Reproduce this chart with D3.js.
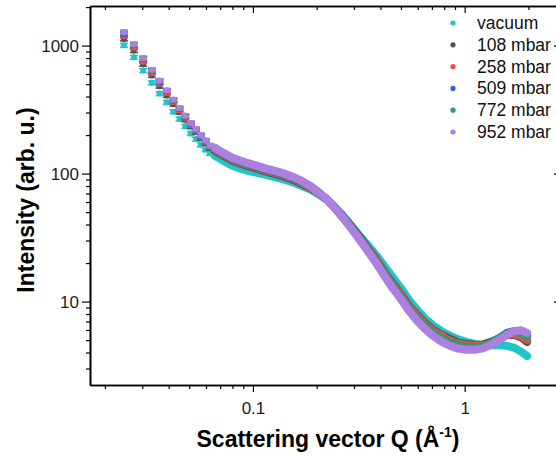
<!DOCTYPE html>
<html>
<head>
<meta charset="utf-8">
<script src="https://cdn.jsdelivr.net/npm/d3@7"></script>
<style>
  body { margin: 0; background: #fff; }
  svg { display: block; font-family: "Liberation Sans", Arial, sans-serif; }
  .axis path, .axis line { stroke: #000; }
  .axis text { fill: #222; }
</style>
</head>
<body>
<div id="chart"></div>
<script>
// sparse low-Q points (drawn as separate markers)
const qLow = [0.0246, 0.0274, 0.0303, 0.0333, 0.0362, 0.0392, 0.0421, 0.0450, 0.0479, 0.0509, 0.0538, 0.0567, 0.0597, 0.0626]
// dense points (overlapping markers -> band)
const qHigh = [0.066, 0.070, 0.075, 0.080, 0.087, 0.095, 0.105, 0.116, 0.128, 0.141,
  0.155, 0.170, 0.186, 0.203, 0.222, 0.243, 0.266, 0.291, 0.318, 0.348,
  0.381, 0.417, 0.456, 0.499, 0.546, 0.597, 0.653, 0.714, 0.781, 0.854,
  0.934, 1.02, 1.12, 1.22, 1.33, 1.45, 1.58, 1.72, 1.85, 1.97]

const vacuumLow = [1005, 810, 638, 512, 422, 361, 305, 267, 234, 206, 186, 168, 154, 144]
const vacuumHigh = [138.0, 130.3, 122.3, 115.3, 109.6, 104.9, 101.3, 97.2, 93.4, 89.6,
  85.4, 80.1, 75.3, 69.4, 62.9, 54.9, 47.1, 39.4, 32.9, 27.7,
  23.2, 19.0, 15.6, 12.8, 10.3, 8.61, 7.32, 6.46, 5.85, 5.40,
  5.07, 4.84, 4.67, 4.59, 4.55, 4.55, 4.51, 4.35, 4.05, 3.76]

const mbar108Low = [1128, 915, 715, 585, 482, 408, 348, 302, 264, 233, 211, 189, 173, 158]
const mbar108High = [150.7, 142.5, 133.8, 126.2, 119.9, 114.3, 108.8, 103.5, 98.9, 94.6,
  89.3, 83.1, 77.3, 70.7, 63.4, 54.4, 46.3, 38.7, 32.3, 26.3,
  21.6, 17.1, 14.0, 11.5, 9.26, 7.87, 6.76, 5.96, 5.49, 5.11,
  4.78, 4.67, 4.59, 4.63, 4.84, 5.16, 5.49, 5.49, 5.25, 4.84]

const mbar258Low = [1182, 965, 752, 612, 505, 428, 362, 313, 273, 240, 216, 194, 177, 162]
const mbar258High = [153.7, 145.1, 136.3, 128.4, 122.1, 116.3, 110.8, 105.4, 100.7, 96.3,
  90.9, 84.6, 78.0, 70.7, 63.4, 54.4, 45.5, 38.0, 31.7, 25.8,
  21.2, 16.8, 13.7, 11.3, 9.09, 7.73, 6.64, 5.85, 5.40, 4.93,
  4.70, 4.59, 4.51, 4.55, 4.76, 5.07, 5.49, 5.59, 5.35, 5.02]

const mbar509Low = [1234, 1005, 785, 635, 522, 440, 372, 320, 279, 245, 220, 197, 179, 164]
const mbar509High = [156.5, 147.8, 138.8, 130.8, 124.3, 118.4, 112.8, 107.3, 102.5, 98.0,
  92.6, 86.1, 80.1, 71.9, 63.4, 54.4, 45.5, 38.0, 31.2, 25.3,
  20.4, 16.5, 13.3, 10.9, 8.77, 7.46, 6.40, 5.64, 5.11, 4.76,
  4.53, 4.43, 4.35, 4.47, 4.76, 5.16, 5.69, 5.90, 5.74, 5.40]

const mbar772Low = [1256, 1018, 793, 642, 528, 444, 376, 323, 282, 247, 222, 199, 181, 165]
const mbar772High = [157.9, 149.1, 140.0, 131.9, 125.4, 119.5, 113.8, 108.3, 103.5, 98.9,
  93.4, 86.9, 80.1, 71.9, 63.4, 54.4, 45.5, 38.0, 31.2, 25.3,
  20.4, 16.5, 13.3, 10.9, 8.77, 7.46, 6.40, 5.64, 5.11, 4.76,
  4.53, 4.43, 4.35, 4.47, 4.76, 5.16, 5.59, 5.80, 5.64, 5.30]

const mbar952Low = [1280, 1030, 801, 649, 533, 448, 379, 326, 284, 249, 224, 200, 182, 166]
const mbar952High = [159.4, 150.4, 141.3, 133.1, 126.6, 120.6, 114.9, 109.2, 104.4, 99.8,
  94.2, 87.7, 80.1, 71.9, 63.4, 54.4, 45.5, 37.3, 30.6, 24.9,
  20.1, 15.9, 12.8, 10.5, 8.46, 7.07, 6.07, 5.35, 4.84, 4.51,
  4.29, 4.20, 4.20, 4.31, 4.59, 4.98, 5.49, 5.90, 5.96, 5.69]

const seriesNames = ['vacuum', '108 mbar', '258 mbar', '509 mbar', '772 mbar', '952 mbar']
const lowValues = [vacuumLow, mbar108Low, mbar258Low, mbar509Low, mbar772Low, mbar952Low]
const highValues = [vacuumHigh, mbar108High, mbar258High, mbar509High, mbar772High, mbar952High]
const relError = 0.035

const xMajor = [0.1, 1]
const xMinor = [0.02, 0.03, 0.04, 0.05, 0.06, 0.07, 0.08, 0.09, 0.2, 0.3, 0.4, 0.5, 0.6, 0.7, 0.8, 0.9, 2]
const yMajor = [10, 100, 1000]
const yMinor = [3, 4, 5, 6, 7, 8, 9, 20, 30, 40, 50, 60, 70, 80, 90, 200, 300, 400, 500, 600, 700, 800, 900, 2000]

const svgWidth = 556
const svgHeight = 457
const plot = { left: 90, right: 561, top: 6, bottom: 385 }

const color = d3.scaleOrdinal()
  .domain(seriesNames)
  .range(['#1fc6c8', '#525252', '#f04a4a', '#2a68d8', '#2f9e68', '#ad7fe0'])

document.addEventListener('DOMContentLoaded', function () {
  const svg = d3.select('#chart').append('svg')
    .attr('width', svgWidth)
    .attr('height', svgHeight)

  const x = d3.scaleLog().domain([0.017, 2.85]).range([plot.left, plot.right])
  const y = d3.scaleLog().domain([2.23, 2040]).range([plot.bottom, plot.top])

  // data
  const dataGroup = svg.append('g')
  const line = d3.line().x(d => x(d.q)).y(d => y(d.i))

  seriesNames.forEach((name, s) => {
    const g = dataGroup.append('g')
    const dense = qHigh.map((q, k) => ({ q: q, i: highValues[s][k] }))
    g.append('path')
      .datum(dense)
      .attr('d', line)
      .attr('fill', 'none')
      .attr('stroke', color(name))
      .attr('stroke-width', 8)
      .attr('stroke-linecap', 'round')
      .attr('stroke-linejoin', 'round')

    const pts = qLow.map((q, k) => ({ q: q, i: lowValues[s][k] }))
    const p = g.selectAll('g.pt').data(pts).enter().append('g').attr('class', 'pt')
    p.append('line')
      .attr('x1', d => x(d.q)).attr('x2', d => x(d.q))
      .attr('y1', d => y(d.i * (1 - relError))).attr('y2', d => y(d.i * (1 + relError)))
      .attr('stroke', color(name)).attr('stroke-width', 1.5)
    p.append('line')
      .attr('x1', d => x(d.q) - 4).attr('x2', d => x(d.q) + 4)
      .attr('y1', d => y(d.i * (1 - relError))).attr('y2', d => y(d.i * (1 - relError)))
      .attr('stroke', color(name)).attr('stroke-width', 1.5)
    p.append('line')
      .attr('x1', d => x(d.q) - 4).attr('x2', d => x(d.q) + 4)
      .attr('y1', d => y(d.i * (1 + relError))).attr('y2', d => y(d.i * (1 + relError)))
      .attr('stroke', color(name)).attr('stroke-width', 1.5)
    p.append('circle')
      .attr('cx', d => x(d.q)).attr('cy', d => y(d.i))
      .attr('r', 3)
      .attr('fill', color(name))
  })

  // axes
  const bottomMajor = svg.append('g').attr('class', 'axis')
    .attr('transform', `translate(0, ${plot.bottom})`)
    .call(d3.axisBottom(x).tickValues(xMajor).tickSize(7).tickSizeOuter(0).tickPadding(10)
      .tickFormat(d => d === 1 ? '1' : '0.1'))
  svg.append('g').attr('class', 'axis')
    .attr('transform', `translate(0, ${plot.bottom})`)
    .call(d3.axisBottom(x).tickValues(xMinor).tickSize(4).tickSizeOuter(0).tickFormat(''))

  svg.append('g').attr('class', 'axis')
    .attr('transform', `translate(0, ${plot.top})`)
    .call(d3.axisBottom(x).tickValues(xMajor).tickSize(7).tickSizeOuter(0).tickFormat(''))
  svg.append('g').attr('class', 'axis')
    .attr('transform', `translate(0, ${plot.top})`)
    .call(d3.axisBottom(x).tickValues(xMinor).tickSize(4).tickSizeOuter(0).tickFormat(''))

  const leftMajor = svg.append('g').attr('class', 'axis')
    .attr('transform', `translate(${plot.left}, 0)`)
    .call(d3.axisLeft(y).tickValues(yMajor).tickSize(8).tickSizeOuter(0).tickPadding(3)
      .tickFormat(d3.format('d')))
  svg.append('g').attr('class', 'axis')
    .attr('transform', `translate(${plot.left}, 0)`)
    .call(d3.axisLeft(y).tickValues(yMinor).tickSize(4).tickSizeOuter(0).tickFormat(''))

  svg.append('g').attr('class', 'axis')
    .attr('transform', `translate(${plot.right}, 0)`)
    .call(d3.axisLeft(y).tickValues(yMajor).tickSize(7).tickSizeOuter(0).tickFormat(''))
  svg.append('g').attr('class', 'axis')
    .attr('transform', `translate(${plot.right}, 0)`)
    .call(d3.axisLeft(y).tickValues(yMinor).tickSize(4).tickSizeOuter(0).tickFormat(''))

  svg.selectAll('.axis path.domain').attr('stroke-width', 1.6)
  svg.selectAll('.axis .tick line').attr('stroke-width', 1.2)
  bottomMajor.selectAll('text').attr('font-size', 17).attr('font-family', null)
  leftMajor.selectAll('text').attr('font-size', 17).attr('font-family', null)

  // axis titles
  const xTitle = svg.append('text')
    .attr('x', 328)
    .attr('y', 447)
    .attr('text-anchor', 'middle')
    .attr('font-size', 23)
    .attr('font-weight', 'bold')
    .text('Scattering vector Q (Å')
  xTitle.append('tspan').attr('font-size', 14).attr('dy', -10).text('-1')
  xTitle.append('tspan').attr('dy', 10).text(')')

  svg.append('text')
    .attr('transform', 'rotate(-90)')
    .attr('x', -200)
    .attr('y', 34)
    .attr('text-anchor', 'middle')
    .attr('font-size', 23)
    .attr('font-weight', 'bold')
    .text('Intensity (arb. u.)')

  // legend
  const legend = svg.append('g')
  seriesNames.forEach((name, s) => {
    const row = legend.append('g').attr('transform', `translate(453, ${23 + s * 21.8})`)
    row.append('circle').attr('r', 2.6).attr('fill', color(name))
    row.append('text').attr('x', 24).attr('y', 6)
      .attr('font-size', 17.5).attr('fill', '#111')
      .text(name)
  })
})
</script>
</body>
</html>
